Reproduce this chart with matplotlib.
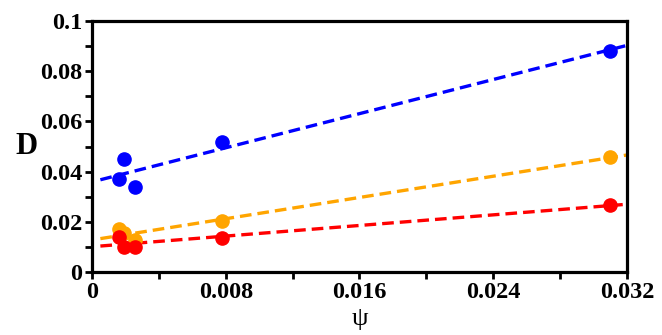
import numpy as np
import matplotlib
matplotlib.use("Agg")
import matplotlib.pyplot as plt
from matplotlib.ticker import MultipleLocator

plt.rcParams['font.family'] = ['Liberation Serif', 'DejaVu Serif']
plt.rcParams['font.weight'] = 'bold'

# data
psi = [0.0016, 0.0019, 0.0026, 0.0078, 0.031]
d_blue = [0.0369, 0.0449, 0.0340, 0.0519, 0.0882]
d_orange = [0.0171, 0.0154, 0.0127, 0.0204, 0.0458]
d_red = [0.0141, 0.0101, 0.0098, 0.0135, 0.0267]

xticks = [0, 0.008, 0.016, 0.024, 0.032]
xticklabels = ['0', '0.008', '0.016', '0.024', '0.032']
yticks = [0, 0.02, 0.04, 0.06, 0.08, 0.1]
yticklabels = ['0', '0.02', '0.04', '0.06', '0.08', '0.1']

fig = plt.figure(figsize=(6.62, 3.35), dpi=100)
ax = fig.add_axes([0.139, 0.188, 0.808, 0.749])

xfit = np.array([0.0005, 0.032])
for ys, col in [(d_blue, 'blue'), (d_orange, 'orange'), (d_red, 'red')]:
    k, b = np.polyfit(psi, ys, 1)
    ax.plot(xfit, k * xfit + b, ls=(0, (3.5, 1.8)), color=col, lw=2.4, zorder=2)
    ax.plot(psi, ys, 'o', color=col, ms=9.5, zorder=3, clip_on=False)

ax.set_xlim(0, 0.032)
ax.set_ylim(0, 0.1)
ax.set_xticks(xticks)
ax.set_xticklabels(xticklabels)
ax.set_yticks(yticks)
ax.set_yticklabels(yticklabels)
ax.xaxis.set_minor_locator(MultipleLocator(0.004))
ax.yaxis.set_minor_locator(MultipleLocator(0.01))

for s in ax.spines.values():
    s.set_linewidth(2.3)
ax.tick_params(which='major', length=5, width=2, labelsize=17.5, pad=2)
ax.tick_params(which='minor', length=5, width=2)
for lab in ax.get_xticklabels() + ax.get_yticklabels():
    lab.set_fontweight('bold')

ax.set_xlabel('ψ', fontsize=19, fontweight='normal', labelpad=4)
ax.set_ylabel('D', fontsize=22, fontweight='bold', rotation=0, labelpad=10, va='center')

fig.savefig('out.png', dpi=100)
